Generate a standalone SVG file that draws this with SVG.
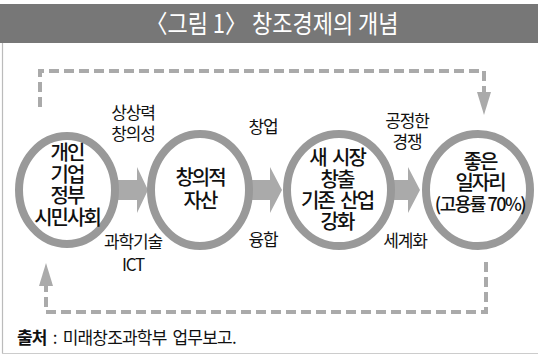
<svg xmlns="http://www.w3.org/2000/svg" width="538" height="358" viewBox="0 0 538 358">
<defs>
<style>
.t{font-family:"Noto Sans CJK KR","Noto Sans",sans-serif;fill:#111;text-anchor:middle}
.node{font-size:20px;font-weight:500;letter-spacing:-2px;word-spacing:4px}
.lbl{font-size:17px;letter-spacing:-1.2px}
.ring{fill:none;stroke:#999;stroke-width:8}
.dash{fill:none;stroke:#aaa;stroke-width:4;stroke-dasharray:10 5}
.fat{fill:#aaa}
.head{fill:#aaa}
</style>
</defs>
<rect x="0" y="0" width="538" height="358" fill="#fff"/>
<rect x="0" y="4" width="538" height="39" fill="#777"/>
<text x="272" y="32.5" class="t" style="fill:#fff;font-size:25px" textLength="253" lengthAdjust="spacingAndGlyphs">〈그림 1〉 창조경제의 개념</text>
<line x1="2.5" y1="43" x2="2.5" y2="353.5" stroke="#bbb" stroke-width="1.2"/>
<line x1="2" y1="353.5" x2="538" y2="353.5" stroke="#ccc" stroke-width="1.2"/>

<g id="connectors">
<path class="dash" d="M40,107 V71 H484 V92"/>
<polygon class="head" points="477,92 491,92 484,115"/>
<path class="dash" d="M486,262 V312 H46 V286"/>
<polygon class="head" points="39,286 53,286 46,263"/>
<polygon class="fat" points="115,180 137,180 137,167 148,190 137,213 137,200 115,200"/>
<polygon class="fat" points="248,180 270,180 270,167 282,190 270,213 270,200 248,200"/>
<polygon class="fat" points="390,180 408,180 408,167 420,190 408,213 408,200 390,200"/>
<text class="t lbl" x="133" y="119">상상력</text>
<text class="t lbl" x="133" y="140">창의성</text>
<text class="t lbl" x="133" y="248">과학기술</text>
<text class="t lbl" x="133" y="271">ICT</text>
<text class="t lbl" x="263" y="133">창업</text>
<text class="t lbl" x="263" y="246">융합</text>
<text class="t lbl" x="407" y="127">공정한</text>
<text class="t lbl" x="407" y="148">경쟁</text>
<text class="t lbl" x="405" y="247">세계화</text>
</g>

<g id="node1">
<ellipse class="ring" cx="67" cy="190" rx="48" ry="54"/>
<text class="t node" x="67" y="160">개인</text>
<text class="t node" x="67" y="182">기업</text>
<text class="t node" x="67" y="203">정부</text>
<text class="t node" x="67" y="225">시민사회</text>
</g>
<g id="node2">
<ellipse class="ring" cx="200" cy="190" rx="49" ry="56"/>
<text class="t node" x="200" y="185">창의적</text>
<text class="t node" x="200" y="208">자산</text>
</g>
<g id="node3">
<ellipse class="ring" cx="339" cy="190" rx="52" ry="56"/>
<text class="t node" x="337" y="165">새 시장</text>
<text class="t node" x="337" y="187">창출</text>
<text class="t node" x="337" y="208">기존 산업</text>
<text class="t node" x="337" y="229">강화</text>
</g>
<g id="node4">
<ellipse class="ring" cx="478" cy="190" rx="52" ry="56"/>
<text class="t node" x="480" y="169">좋은</text>
<text class="t node" x="480" y="190">일자리</text>
<text class="t node" x="480" y="211" style="font-size:18px;letter-spacing:-1.5px;word-spacing:0px">(고용률 70%)</text>
</g>

<text x="17" y="344" style="font-family:'Noto Sans CJK KR','Noto Sans',sans-serif;font-size:17px;letter-spacing:-0.8px;word-spacing:3px;fill:#111"><tspan font-weight="bold">출처</tspan> : 미래창조과학부 업무보고.</text>
</svg>
